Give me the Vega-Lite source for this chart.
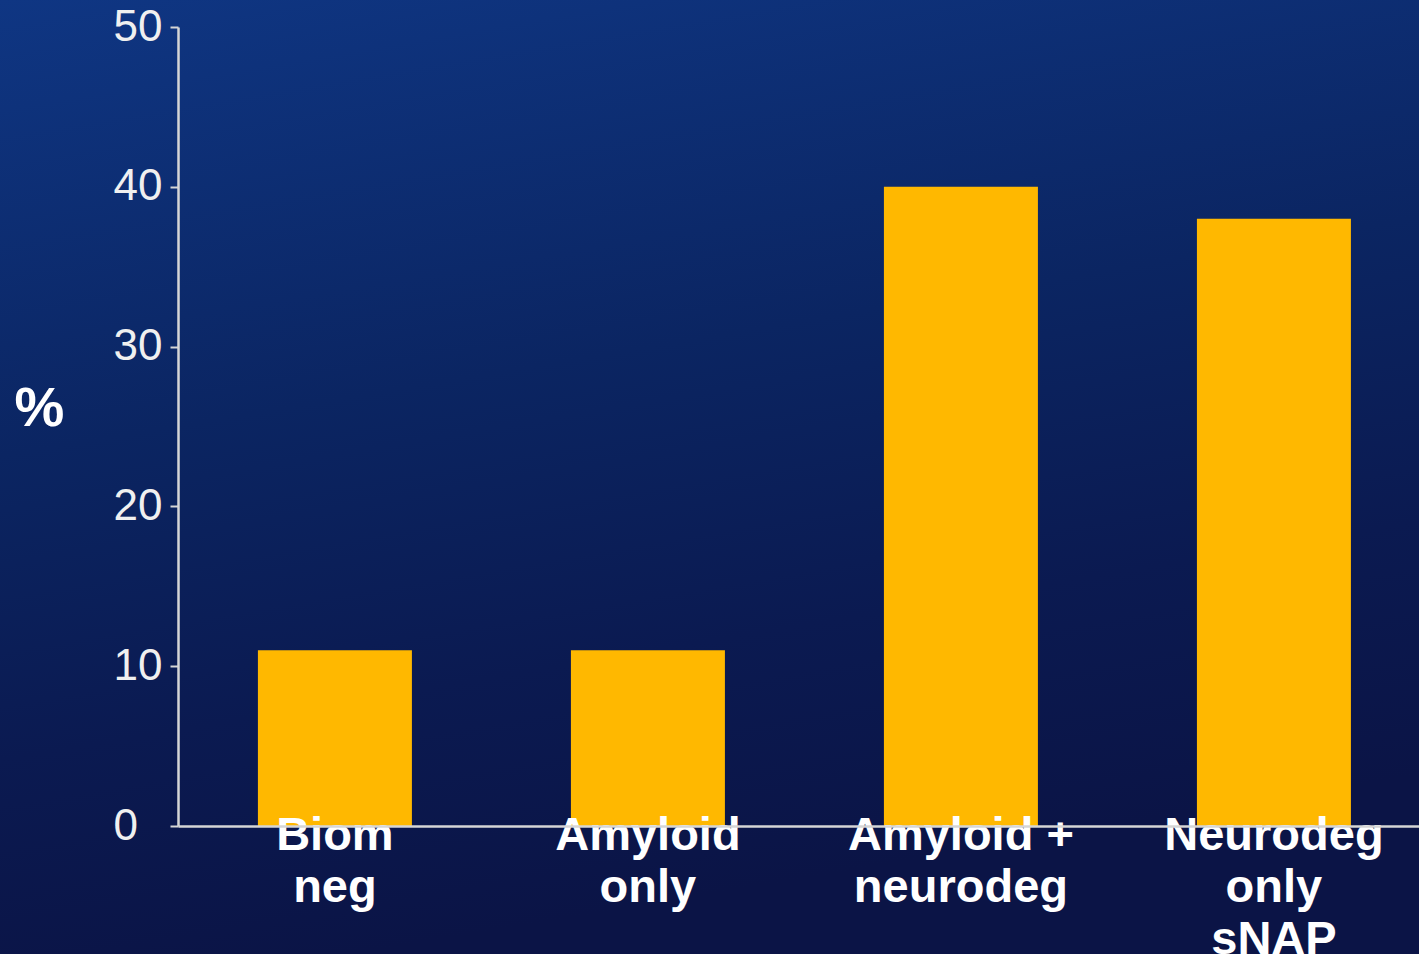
{
  "$schema": "https://vega.github.io/schema/vega-lite/v6.json",
  "width": 1419,
  "height": 954,
  "autosize": {"type": "none"},
  "padding": 0,
  "background": "#0b2160",
  "config": {
    "view": {
      "stroke": null,
      "fill": {
        "gradient": "linear",
        "x1": 0, "y1": 0, "x2": 0.25, "y2": 1,
        "stops": [
          {"offset": 0, "color": "#0f3683"},
          {"offset": 0.45, "color": "#0b2562"},
          {"offset": 0.75, "color": "#0b1a51"},
          {"offset": 1, "color": "#0b1446"}
        ]
      }
    }
  },
  "data": {
    "values": [
      {"group": "Biom\nneg", "pct": 11},
      {"group": "Amyloid\nonly", "pct": 11},
      {"group": "Amyloid +\nneurodeg", "pct": 40},
      {"group": "Neurodeg\nonly\nsNAP", "pct": 38}
    ]
  },
  "mark": {"type": "bar", "color": "#FFB800"},
  "encoding": {
    "x": {
      "field": "group",
      "type": "nominal",
      "sort": null,
      "scale": {
        "range": [178, 1419],
        "paddingInner": 0.508,
        "paddingOuter": 0.2364,
        "align": 0.54
      },
      "axis": {
        "title": null,
        "zindex": 1,
        "offset": -128,
        "ticks": false,
        "tickSize": 0,
        "domainColor": "#d6d6d6",
        "domainWidth": 2.5,
        "labelAngle": 0,
        "labelExpr": "split(datum.label, '\\n')",
        "labelFont": "Liberation Sans",
        "labelFontWeight": "bold",
        "labelFontSize": 47,
        "labelLineHeight": 52,
        "labelLimit": 0,
        "labelColor": "#ffffff",
        "labelPadding": -14,
        "labelBaseline": "top",
        "labelAlign": "center"
      }
    },
    "y": {
      "field": "pct",
      "type": "quantitative",
      "scale": {"domain": [0, 50], "range": [826, 27], "nice": false},
      "axis": {
        "offset": -178,
        "zindex": 1,
        "values": [0, 10, 20, 30, 40, 50],
        "grid": false,
        "domainColor": "#d6d6d6",
        "domainWidth": 2.5,
        "tickColor": "#d6d6d6",
        "tickWidth": 2,
        "tickSize": 8,
        "labelFont": "Liberation Sans",
        "labelFontSize": 44,
        "labelColor": "#f0f0f0",
        "labelAlign": "left",
        "labelBaseline": "middle",
        "labelPadding": 57,
        "labelFlush": false,
        "title": "%",
        "titleFont": "Liberation Sans",
        "titleFontWeight": "bold",
        "titleFontSize": 56,
        "titleColor": "#ffffff",
        "titleAngle": 0,
        "titleAlign": "center",
        "titleBaseline": "middle",
        "titleX": -139,
        "titleY": 408
      }
    }
  }
}
